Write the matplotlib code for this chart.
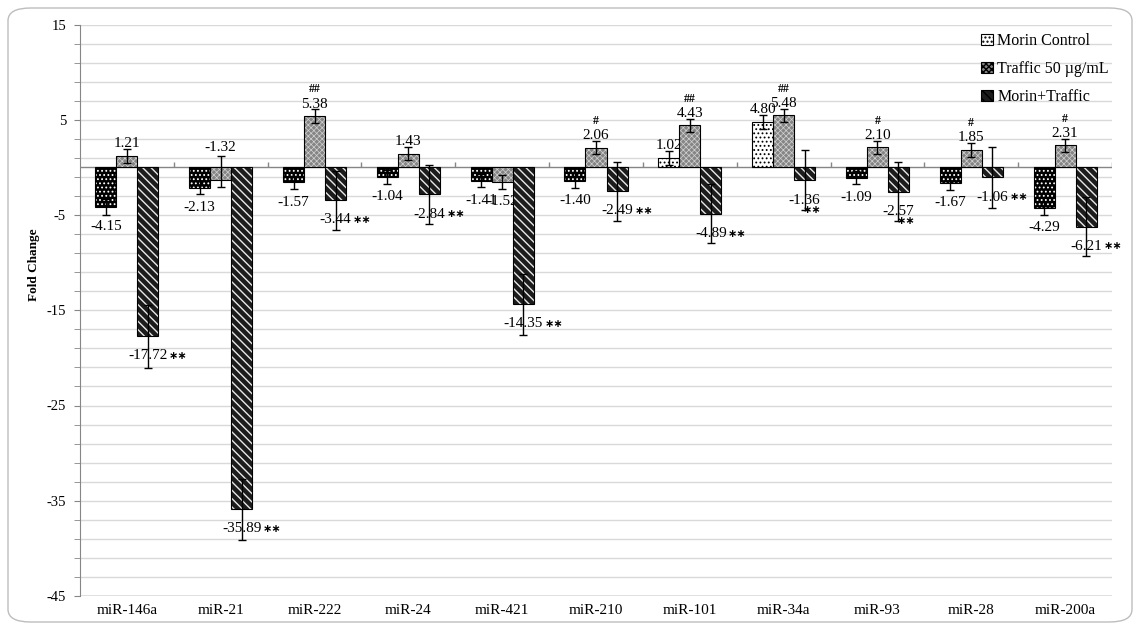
import numpy as np
import matplotlib
matplotlib.use("Agg")
import matplotlib.pyplot as plt
from matplotlib.patches import Patch, FancyBboxPatch

plt.rcParams['font.family'] = ['Liberation Serif', 'DejaVu Serif']
plt.rcParams['hatch.linewidth'] = 1.0
plt.rcParams['axes.unicode_minus'] = False

categories = ["miR-146a", "miR-21", "miR-222", "miR-24", "miR-421", "miR-210",
              "miR-101", "miR-34a", "miR-93", "miR-28", "miR-200a"]
series_names = ["Morin Control", "Traffic 50 µg/mL", "Morin+Traffic"]

morin_control = [-4.15, -2.13, -1.57, -1.04, -1.41, -1.40, 1.02, 4.80, -1.09, -1.67, -4.29]
traffic = [1.21, -1.32, 5.38, 1.43, -1.52, 2.06, 4.43, 5.48, 2.10, 1.85, 2.31]
morin_traffic = [-17.72, -35.89, -3.44, -2.84, -14.35, -2.49, -4.89, -1.36, -2.57, -1.06, -6.21]

err_mc = [0.8, 0.7, 0.65, 0.75, 0.67, 0.76, 0.73, 0.73, 0.7, 0.7, 0.7]
err_t_low = [0.7, 0.77, 0.7, 0.7, 0.7, 0.67, 0.67, 0.67, 0.7, 0.73, 0.72]
err_t_high = [0.7, 2.5, 0.7, 0.7, 0.7, 0.67, 0.67, 0.67, 0.7, 0.73, 0.72]
err_mt = [3.3, 3.2, 3.1, 3.1, 3.2, 3.1, 3.1, 3.15, 3.1, 3.17, 3.1]

traffic_marks = ["", "", "##", "", "", "#", "##", "##", "#", "#", "#"]
mt_marks = ["**"] * 11

yticks = [15, 5, -5, -15, -25, -35, -45]

W, H = 1140, 630
fig = plt.figure(figsize=(W / 100, H / 100), dpi=100)
fig.patches.append(FancyBboxPatch((8 / W, 8 / H), 1124 / W, 614 / H,
                                  boxstyle="round,pad=0,rounding_size=0.02",
                                  transform=fig.transFigure, facecolor="white",
                                  edgecolor="#bdbdbd", linewidth=1.0, zorder=-10))
ax = fig.add_axes([80 / W, (H - 596) / H, (1112 - 80) / W, (596 - 24.5) / H])
ax.set_facecolor("none")

n = len(categories)
x = np.arange(n)
w = 0.224
grid_col = "#d9d9d9"
axis_col = "#868686"

ax.set_xlim(-0.5, n - 0.5)
ax.set_ylim(-45, 15)
ax.set_yticks(yticks)
ax.set_yticks(np.arange(-45, 16, 2), minor=True)
ax.yaxis.grid(True, which="both", color=grid_col, linewidth=1.0)
ax.set_axisbelow(True)
for s in ["top", "right", "bottom"]:
    ax.spines[s].set_visible(False)
ax.spines["left"].set_color(axis_col)
ax.tick_params(axis="y", which="both", direction="out", length=4, color=axis_col,
               labelsize=10.5, pad=6)
ax.set_xticks(x)
ax.set_xticklabels(categories, fontsize=11)
ax.tick_params(axis="x", length=0, pad=6)
ax.set_ylabel("Fold Change", fontsize=9.5, fontweight="bold")
ax.yaxis.set_label_coords(-0.039, 0.58)

ax.axhline(0, color=axis_col, linewidth=1.0, zorder=1)
ax.axhline(-45, color=axis_col, linewidth=1.0, zorder=1)
bounds = np.arange(n + 1) - 0.5
ax.vlines(bounds[1:], 0, 0.6, color=axis_col, linewidth=1.0, zorder=1)


def draw_bars(xpos, vals, faces, hatch, hcols, hlw):
    bars = ax.bar(xpos, vals, w, color=faces, hatch=hatch, edgecolor=hcols,
                  linewidth=0, zorder=2)
    for p in bars:
        if hasattr(p, "set_hatch_linewidth"):
            p.set_hatch_linewidth(hlw)
    ax.bar(xpos, vals, w, fill=False, edgecolor="black", linewidth=0.8, zorder=2.1)
    return bars


mc_face = ["black" if v < 0 else "white" for v in morin_control]
mc_hcol = ["white" if v < 0 else "black" for v in morin_control]
draw_bars(x - w, morin_control, mc_face, "....", mc_hcol, 0.8)
draw_bars(x, traffic, "#858585", "xxxxxx", "#d2d2d2", 0.5)
draw_bars(x + w, morin_traffic, "#1c1c1c", "\\\\\\\\", "#e8e8e8", 1.0)

ekw = dict(fmt="none", ecolor="black", elinewidth=1.0, capsize=3, capthick=1.0, zorder=3)
ax.errorbar(x - w, morin_control, yerr=err_mc, **ekw)
ax.errorbar(x, traffic, yerr=[err_t_low, err_t_high], **ekw)
ax.errorbar(x + w, morin_traffic, yerr=err_mt, **ekw)


def label(xp, v, above=None):
    up = v > 0 if above is None else above
    return ax.annotate(f"{v:.2f}", xy=(xp, v), xytext=(0, 4 if up else -9.5),
                       textcoords="offset points", ha="center",
                       va="bottom" if up else "top", fontsize=11, zorder=1.5)


for i in range(n):
    label(x[i] - w, morin_control[i])
    if i == 1:
        t = ax.annotate(f"{traffic[i]:.2f}", xy=(x[i], traffic[i] + err_t_high[i]),
                        xytext=(0, 1.5), textcoords="offset points", ha="center",
                        va="bottom", fontsize=11, zorder=1.5)
    else:
        t = label(x[i], traffic[i])
    if traffic_marks[i]:
        ax.annotate(traffic_marks[i], xy=(0.5, 1), xycoords=t, xytext=(0, 1.5),
                    textcoords="offset points", ha="center", va="bottom",
                    fontsize=8.5, fontweight="bold")
    m = label(x[i] + w, morin_traffic[i])
    off = (-13, -7) if i in (7, 8) else (1, 0)
    ax.annotate("∗∗", xy=(1, 0.5), xycoords=m, xytext=off,
                textcoords="offset points", ha="left", va="center",
                fontsize=8, fontweight="bold", family=["DejaVu Sans"])

handles = [
    Patch(facecolor="white", edgecolor="black", hatch="....", linewidth=0.8),
    Patch(facecolor="#858585", edgecolor="black", hatch="xxxxxx", linewidth=0.8),
    Patch(facecolor="#1c1c1c", edgecolor="black", hatch="\\\\\\\\", linewidth=0.8),
]
leg = ax.legend(handles, series_names, loc="upper right", bbox_to_anchor=(1.008, 1.005),
                frameon=False, fontsize=11.5, handlelength=0.7, handleheight=0.7,
                handletextpad=0.3, labelspacing=0.75, borderaxespad=0.3)

fig.savefig("out.png", dpi=100)
